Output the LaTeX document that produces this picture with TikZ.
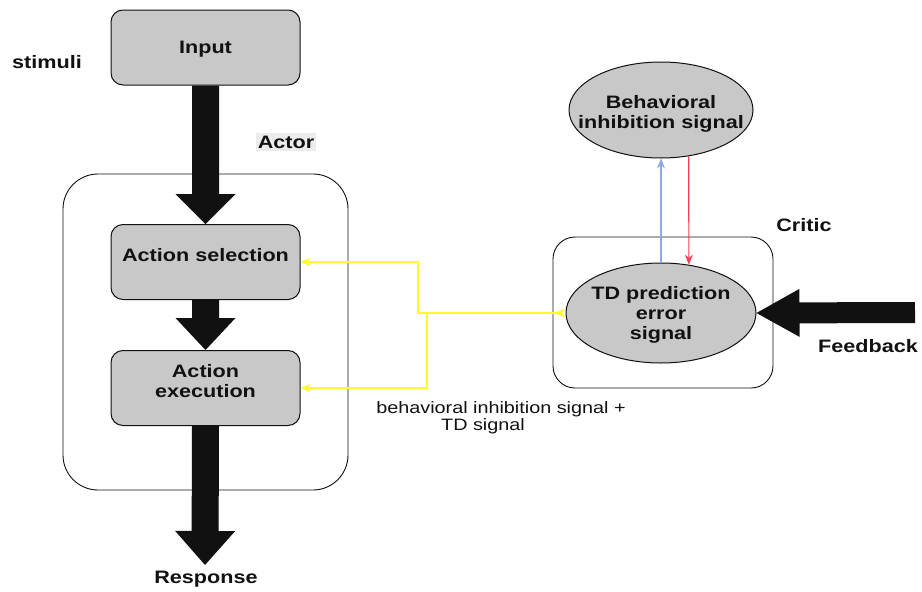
\documentclass[tikz,border=0pt]{standalone}
\usepackage{fontspec}
\setmainfont{Liberation Sans}[FakeStretch=1.2]
\usetikzlibrary{shapes.geometric,arrows.meta,calc}

\definecolor{boxgray}{RGB}{200,200,200}
\definecolor{inkblack}{RGB}{17,17,17}
\definecolor{sigyellow}{RGB}{255,250,40}
\definecolor{upblue}{RGB}{140,170,225}
\definecolor{downred}{RGB}{250,60,85}
\definecolor{tagbg}{RGB}{236,236,236}

% Wide block arrow from #1 to #2: shaft half width #3, head half width #4, head length #5
\newcommand\blockarrow[5]{%
  \path (#1) coordinate (ba-s) (#2) coordinate (ba-t);
  \path ($(ba-t)!#5!(ba-s)$) coordinate (ba-b);
  \fill[blockfill]
    ($(ba-s)!#3!90:(ba-t)$) --
    ($(ba-b)!#3!-90:(ba-s)$) --
    ($(ba-b)!#4!-90:(ba-s)$) --
    (ba-t) --
    ($(ba-b)!#4!90:(ba-s)$) --
    ($(ba-b)!#3!90:(ba-s)$) --
    ($(ba-s)!#3!-90:(ba-t)$) -- cycle;
}

\begin{document}
\begin{tikzpicture}[x=1pt,y=-1pt,
  lbl/.style={font=\fontsize{18pt}{20pt}\selectfont\bfseries, text=inkblack, inner sep=0pt},
  smalllbl/.style={font=\fontsize{16.5pt}{17pt}\selectfont, text=inkblack, inner sep=0pt, align=center},
  box/.style={draw=inkblack, line width=1pt, fill=boxgray, rounded corners=12pt,
    minimum width=189pt, minimum height=75pt, inner sep=0pt},
  boxtext/.style={lbl, align=center, yshift=#1},
  boxtext/.default=7pt,
  oval/.style={ellipse, draw=inkblack, line width=1pt, fill=boxgray, inner sep=0pt},
  frame/.style={draw=inkblack, line width=0.9pt, inner sep=0pt},
  blockfill/.style={fill=inkblack},
  sigline/.style={draw=sigyellow, line width=1.5pt},
  thintip/.tip={Stealth[length=10pt,width=8pt]}
]
\useasboundingbox[fill=white] (0,0) rectangle (922,592);

% containers
\node[frame, rounded corners=35pt, minimum width=285pt, minimum height=316pt] (actorframe) at (205.5,332) {};
\node[frame, rounded corners=22pt, minimum width=220pt, minimum height=151pt] (criticframe) at (663,312.5) {};

% actor column
\node[box, label={[boxtext=-2pt]center:Input}] (input) at (205.5,47.5) {};
\node[box, label={[boxtext]center:Action selection}] (sel) at (205.5,262) {};
\node[box, label={[boxtext]center:Action\\execution}] (exec) at (205.5,388) {};

% critic
\node[oval, minimum width=184pt, minimum height=96pt,
  label={[boxtext=-4pt]center:Behavioral\\inhibition signal}] (bis) at (661,110) {};
\node[oval, minimum width=190pt, minimum height=100pt,
  label={[boxtext=-2pt]center:TD prediction\\error\\signal}] (td) at (661,313) {};

% free labels
\node[lbl] (stimuli) at (47,62) {stimuli};
\node[lbl, fill=tagbg, inner xsep=2pt, inner ysep=3pt] (actor) at (286,142) {Actor};
\node[lbl] (critic) at (804,225) {Critic};
\node[lbl] (feedback) at (868,346) {Feedback};
\node[lbl] (response) at (206,579) {Response};
\node[smalllbl] (siglabel) at (501,418) {behavioral inhibition signal +\\TD signal\hspace*{36pt}};

\coordinate (resptip) at (205,565);
\coordinate (fbstart) at (915,312.5);
\coordinate (split1) at (418,313);
\coordinate (split2) at (427,313);

% block arrows
\blockarrow{input.south}{sel.north}{13.5pt}{30pt}{30pt}
\blockarrow{sel.south}{exec.north}{13.5pt}{30pt}{32pt}
\blockarrow{exec.south}{resptip}{13.5pt}{30pt}{34pt}
\blockarrow{fbstart}{td.east}{10.5pt}{24pt}{43pt}

% critic feedback loop
\draw[draw=upblue, line width=1.2pt, -{thintip}] (td.north) -- (bis.south);
\draw[draw=downred, line width=1.2pt, -{thintip}] (bis.-59.5) -- (td.60.6);

% TD signal to the actor
\draw[sigline, {Stealth[reversed,length=11pt,width=9pt]}-{thintip}] (td.west) -- (split1) |- (sel.east);
\draw[sigline, -{thintip}] (split2) |- (exec.east);
\end{tikzpicture}
\end{document}
